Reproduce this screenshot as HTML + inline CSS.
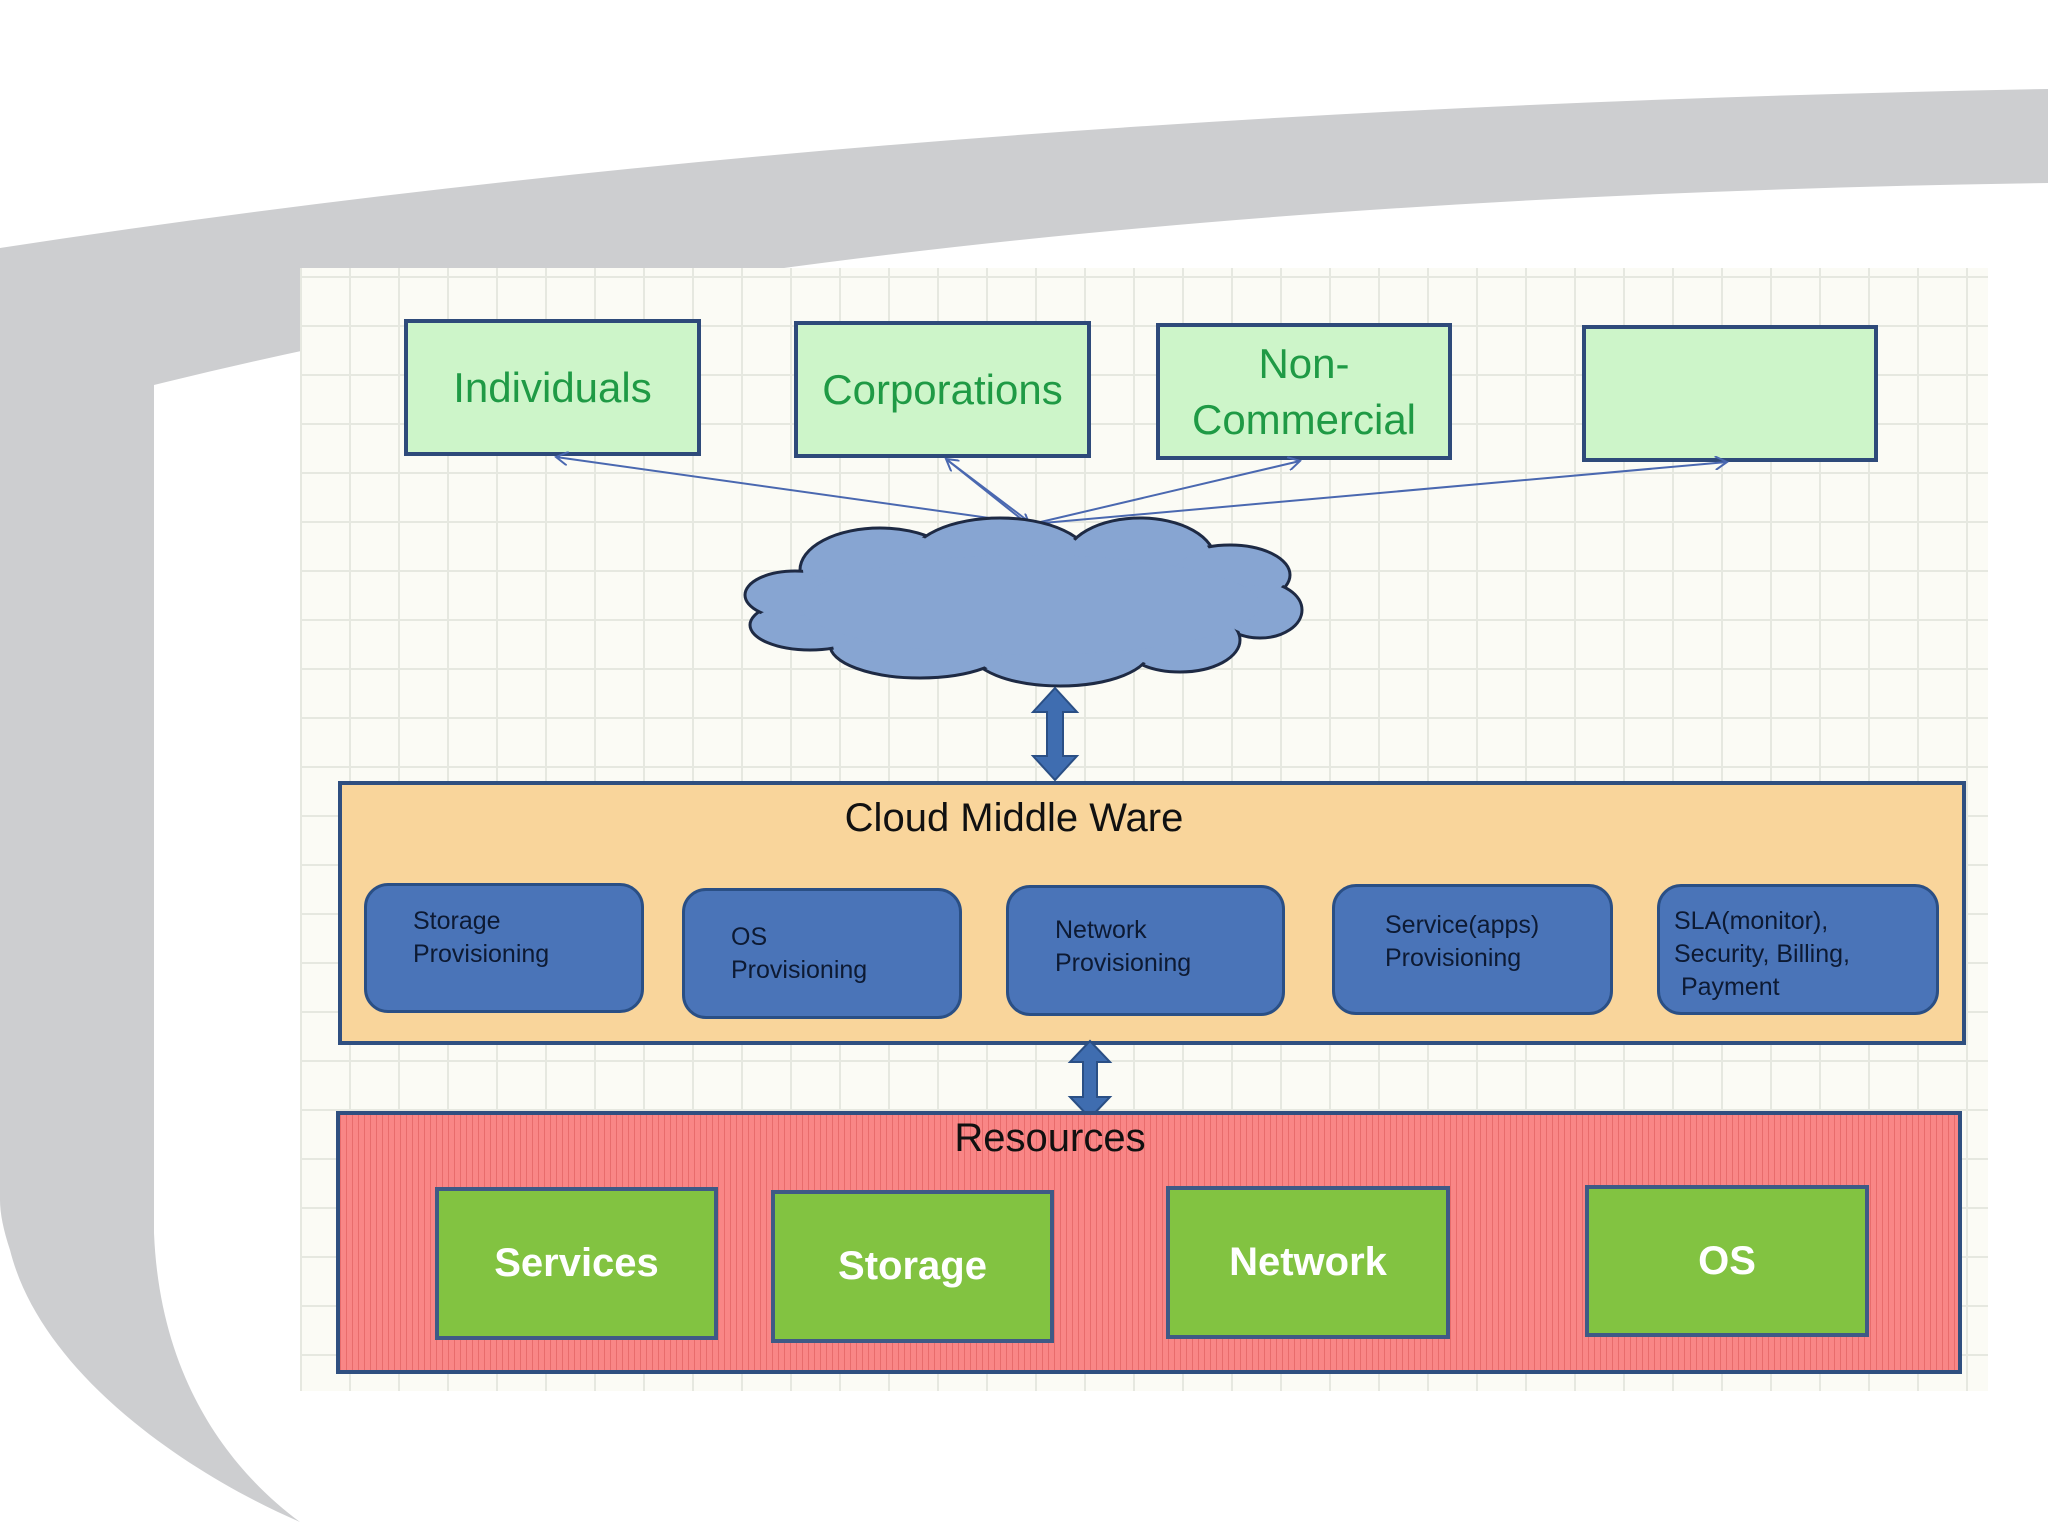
<!DOCTYPE html>
<html><head><meta charset="utf-8"><style>
html,body{margin:0;padding:0;background:#fff}
body{width:2048px;height:1536px;position:relative;overflow:hidden;font-family:"Liberation Sans",sans-serif}
.abs{position:absolute;box-sizing:border-box}
.top{background:#cdf5c9;border:4px solid #2e4a7a;color:#1f9a45;font-size:42px;display:flex;align-items:center;justify-content:center;text-align:center;line-height:56px}
.blue{background:#4a74b8;border:3px solid #2a4f85;border-radius:24px;color:#0d1a33;font-size:25px;line-height:33px;padding-left:46px;display:flex;flex-direction:column;justify-content:center}
.grn{background:#82c341;border:4px solid #3f5a86;color:#fff;font-size:40px;font-weight:bold;display:flex;align-items:center;justify-content:center}
</style></head><body>
<svg class="abs" style="left:0;top:0" width="2048" height="1536">
<path d="M0 248 Q900 110 2048 89 L2048 183 Q900 200 154 385 L154 1233 C160 1380 230 1470 300 1522 C180 1470 40 1370 10 1250 Q0 1220 0 1200 Z" fill="#cdced0"/>
</svg>
<div class="abs" style="left:300px;top:268px;width:1688px;height:1123px;background-color:#fbfbf5;background-image:linear-gradient(#e6e8e0 2px,transparent 2px),linear-gradient(90deg,#e6e8e0 2px,transparent 2px);background-size:49px 49px;background-position:0 8px"></div>

<div class="abs top" style="left:404px;top:319px;width:297px;height:137px">Individuals</div>
<div class="abs top" style="left:794px;top:321px;width:297px;height:137px">Corporations</div>
<div class="abs top" style="left:1156px;top:323px;width:296px;height:137px">Non-<br>Commercial</div>
<div class="abs top" style="left:1582px;top:325px;width:296px;height:137px"></div>

<svg class="abs" style="left:0;top:0" width="2048" height="1536">
<defs><marker id="o" markerWidth="14" markerHeight="14" refX="12" refY="7" orient="auto" markerUnits="userSpaceOnUse"><path d="M0 0 L12 7 L0 14" fill="none" stroke="#4a68b0" stroke-width="2"/></marker></defs>
<g stroke="#4a68b0" stroke-width="2" fill="none">
<line x1="1032" y1="524" x2="556" y2="457" marker-end="url(#o)"/>
<line x1="1032" y1="524" x2="946" y2="459" marker-end="url(#o)"/>
<line x1="1032" y1="524" x2="1300" y2="461" marker-end="url(#o)"/>
<line x1="1032" y1="524" x2="1727" y2="462" marker-end="url(#o)"/>
<line x1="946" y1="459" x2="1030" y2="526" marker-end="url(#o)"/>
</g>
<g fill="#87a5d2" stroke="#1e2a44" stroke-width="3">
<ellipse cx="880" cy="570" rx="80" ry="42"/>
<ellipse cx="1000" cy="560" rx="90" ry="42"/>
<ellipse cx="1140" cy="560" rx="75" ry="42"/>
<ellipse cx="1230" cy="575" rx="60" ry="30"/>
<ellipse cx="1260" cy="610" rx="42" ry="28"/>
<ellipse cx="1180" cy="640" rx="60" ry="32"/>
<ellipse cx="1060" cy="650" rx="90" ry="36"/>
<ellipse cx="920" cy="645" rx="90" ry="33"/>
<ellipse cx="810" cy="625" rx="60" ry="25"/>
<ellipse cx="795" cy="595" rx="50" ry="24"/>
</g>
<g fill="#87a5d2">
<ellipse cx="880" cy="570" rx="77" ry="39"/>
<ellipse cx="1000" cy="560" rx="87" ry="39"/>
<ellipse cx="1140" cy="560" rx="72" ry="39"/>
<ellipse cx="1230" cy="575" rx="57" ry="27"/>
<ellipse cx="1260" cy="610" rx="39" ry="25"/>
<ellipse cx="1180" cy="640" rx="57" ry="29"/>
<ellipse cx="1060" cy="650" rx="87" ry="33"/>
<ellipse cx="920" cy="645" rx="87" ry="30"/>
<ellipse cx="810" cy="625" rx="57" ry="22"/>
<ellipse cx="795" cy="595" rx="47" ry="21"/>
<ellipse cx="1030" cy="605" rx="230" ry="50"/>
</g>
<path d="M1055 688 L1077 712 L1063 712 L1063 756 L1077 756 L1055 780 L1033 756 L1047 756 L1047 712 L1033 712 Z" fill="#3f6db0" stroke="#2a4f85" stroke-width="2"/>
</svg>

<div class="abs" style="left:338px;top:781px;width:1628px;height:264px;background:#f9d59b;border:4px solid #2f4f80"></div>
<div class="abs" style="left:338px;top:796px;width:1352px;text-align:center;font-size:40px;color:#111">Cloud Middle Ware</div>
<div class="abs blue" style="left:364px;top:883px;width:280px;height:130px;padding-bottom:20px">Storage<br>Provisioning</div>
<div class="abs blue" style="left:682px;top:888px;width:280px;height:131px">OS<br>Provisioning</div>
<div class="abs blue" style="left:1006px;top:885px;width:279px;height:131px;padding-bottom:8px">Network<br>Provisioning</div>
<div class="abs blue" style="left:1332px;top:884px;width:281px;height:131px;padding-bottom:16px;padding-left:50px">Service(apps)<br>Provisioning</div>
<div class="abs blue" style="left:1657px;top:884px;width:282px;height:131px;padding-left:14px;padding-top:10px">SLA(monitor),<br>Security, Billing,<br>&nbsp;Payment</div>

<svg class="abs" style="left:0;top:0" width="2048" height="1536">
<path d="M1090 1041 L1110 1062 L1097 1062 L1097 1097 L1110 1097 L1090 1118 L1070 1097 L1083 1097 L1083 1062 L1070 1062 Z" fill="#3f6db0" stroke="#2a4f85" stroke-width="2"/>
</svg>

<div class="abs" style="left:336px;top:1111px;width:1626px;height:263px;background-color:#f98686;background-image:repeating-linear-gradient(90deg,rgba(200,60,60,.35) 0 1px,transparent 1px 6px);border:4px solid #2f4f80"></div>
<div class="abs" style="left:336px;top:1116px;width:1428px;text-align:center;font-size:40px;color:#111">Resources</div>
<div class="abs grn" style="left:435px;top:1187px;width:283px;height:153px">Services</div>
<div class="abs grn" style="left:771px;top:1190px;width:283px;height:153px">Storage</div>
<div class="abs grn" style="left:1166px;top:1186px;width:284px;height:153px">Network</div>
<div class="abs grn" style="left:1585px;top:1185px;width:284px;height:152px">OS</div>
</body></html>
